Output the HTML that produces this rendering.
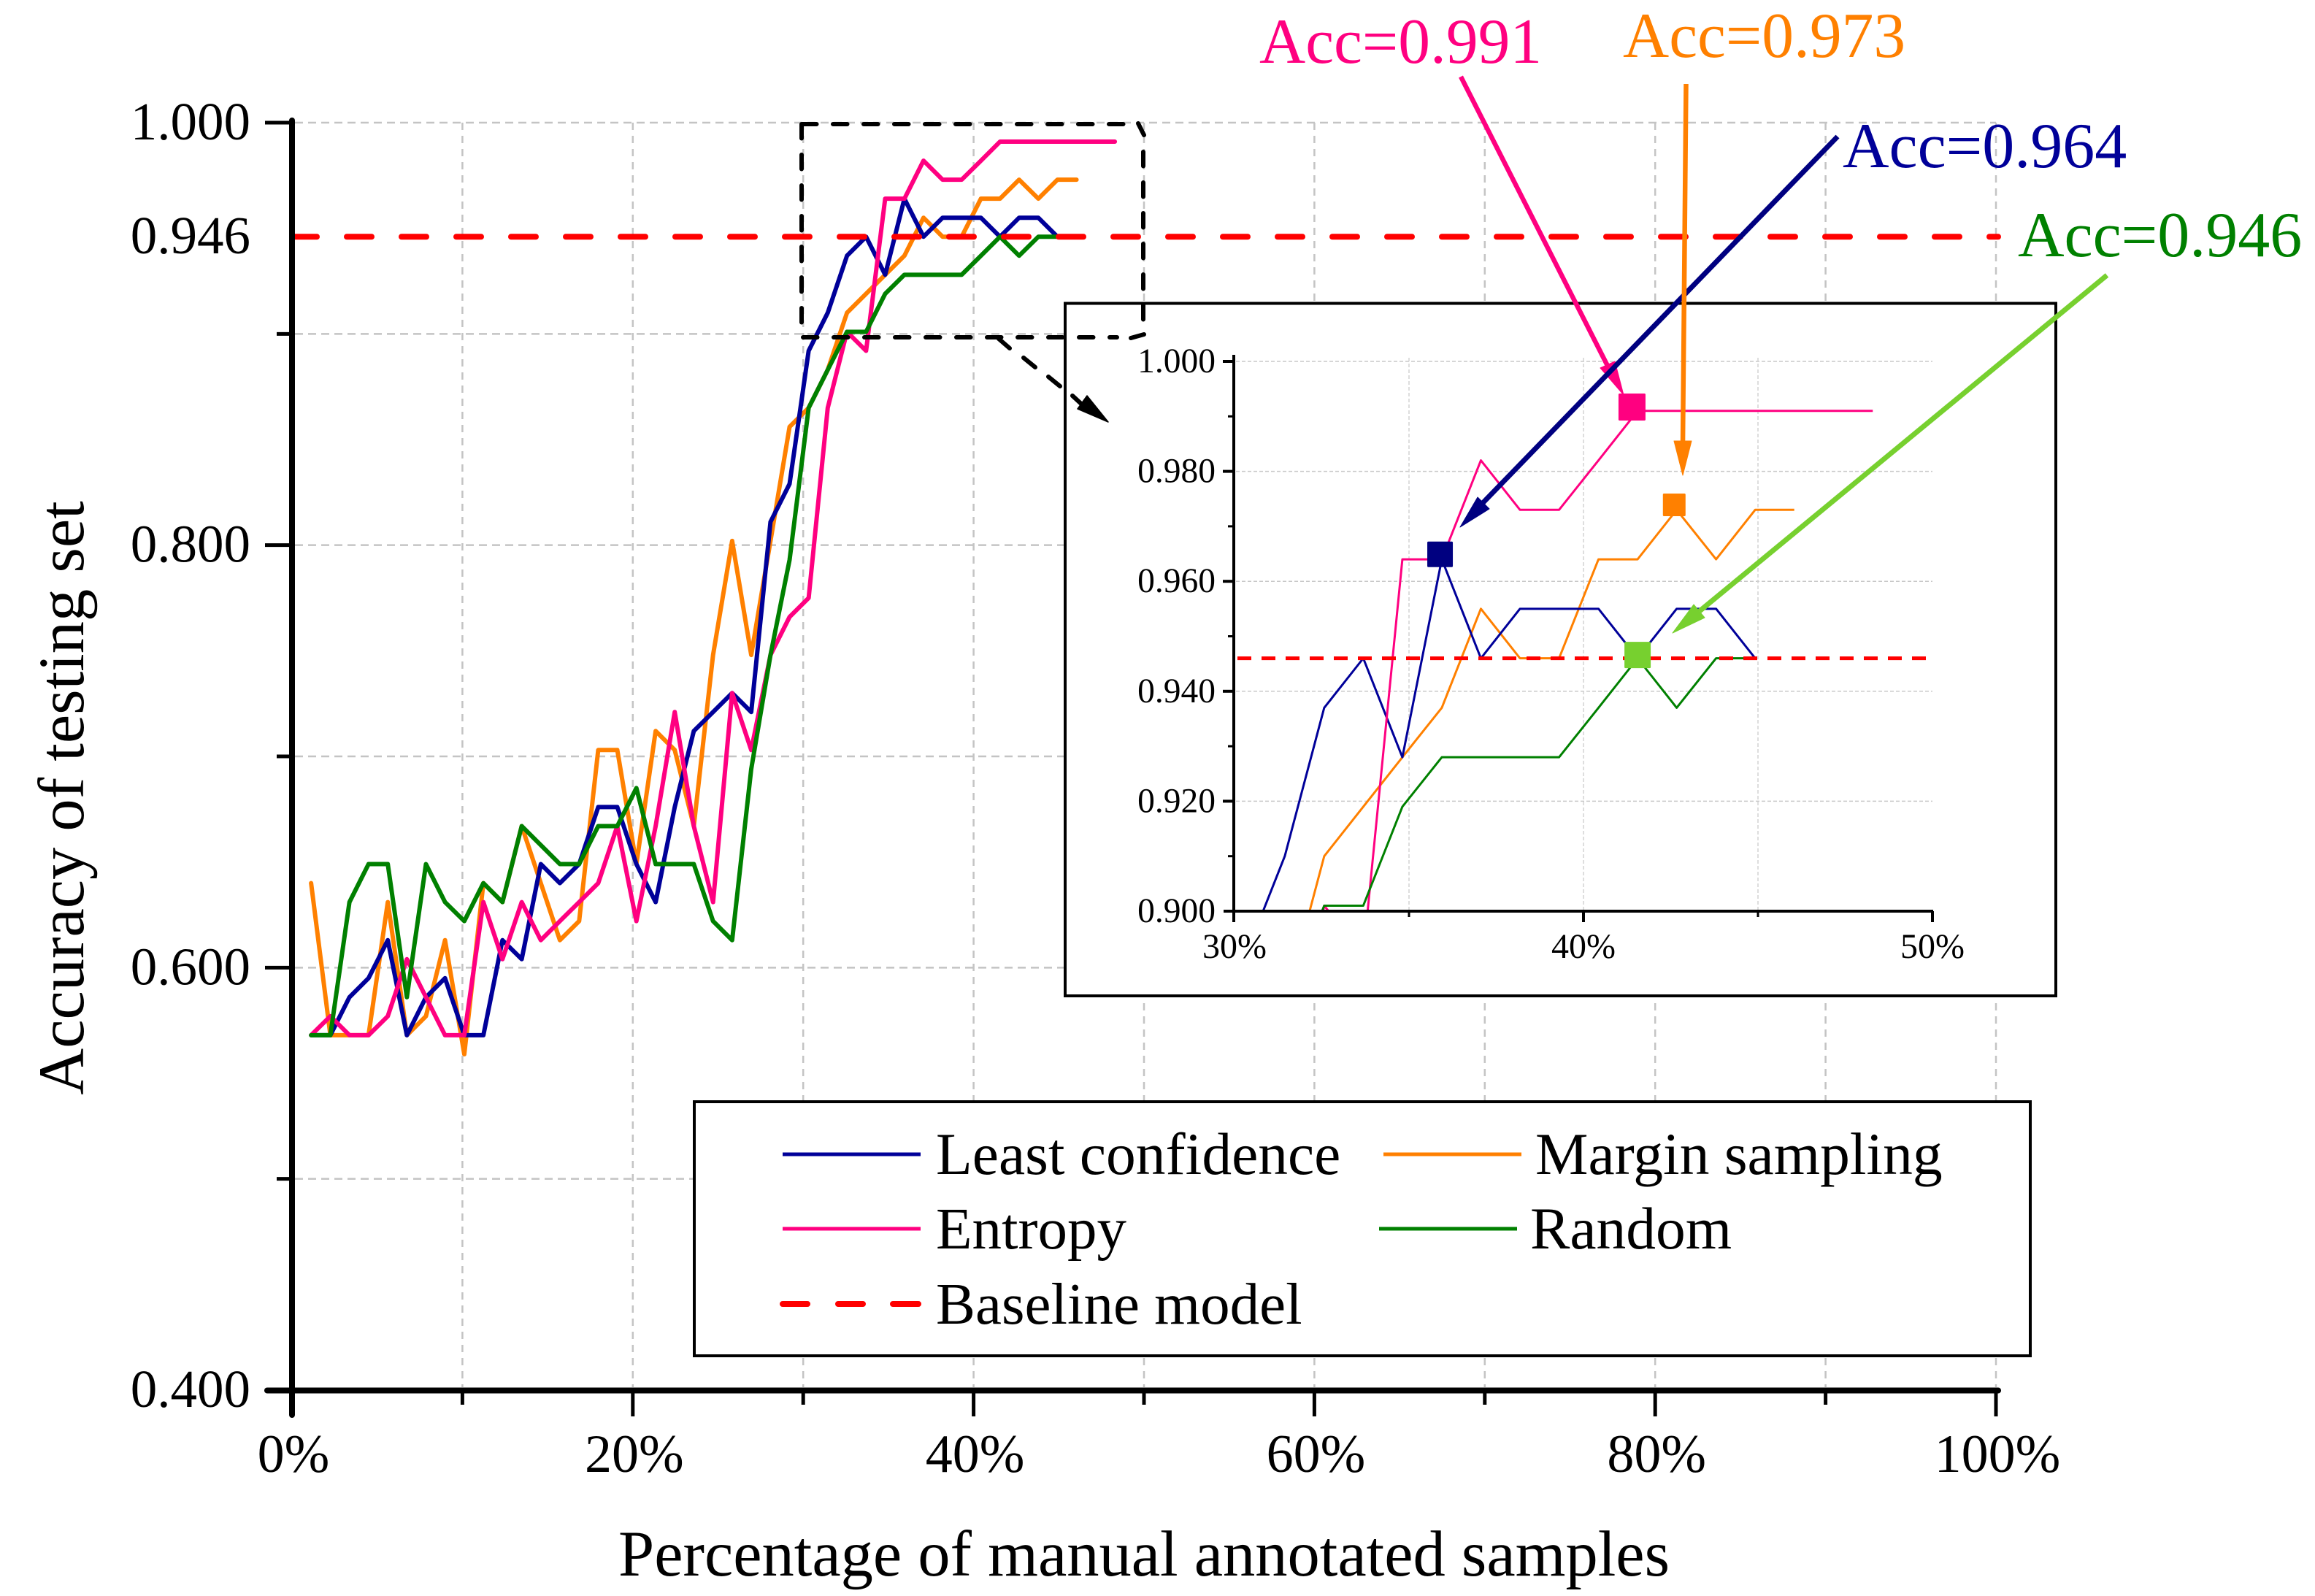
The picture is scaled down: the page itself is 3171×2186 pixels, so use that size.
<!DOCTYPE html>
<html lang="en">
<head>
<meta charset="utf-8">
<title>Accuracy of testing set vs percentage of manual annotated samples</title>
<style>
  html, body { margin: 0; padding: 0; background: #fff; width: 3171px; height: 2186px; overflow: hidden; }
  svg { display: block; position: absolute; left: 0; top: 0; }
  text { font-family: "Liberation Serif", "Times New Roman", serif; fill: #000; }
</style>
</head>
<body>
<svg id="chart" xmlns="http://www.w3.org/2000/svg" width="3171" height="2186" viewBox="0 0 3171 2186">
  <defs>
    <clipPath id="inset-clip"><rect x="1691" y="486" width="956" height="762"/></clipPath>
  </defs>
  <rect x="0" y="0" width="3171" height="2186" fill="#ffffff"/>
  <g id="main-grid"></g>
  <g id="main-series"></g>
  <g id="main-axes"></g>

  <g>
    <rect x="1459" y="415.5" width="1357" height="948.5" fill="#ffffff" stroke="#000" stroke-width="4"/>
    <g id="inset-grid"></g>
    <g id="inset-series" clip-path="url(#inset-clip)"></g>
    <g id="inset-axes"></g>
    <g id="inset-markers"></g>
  </g>

  <g fill="none" stroke="#000" stroke-width="6" stroke-linecap="round" stroke-dasharray="19.5 22.5">
    <path d="M1099 170H1540"/>
    <path d="M1098 170V446"/>
    <path d="M1100 462H1530"/>
    <path d="M1566 208V438"/>
    <path stroke-dasharray="none" d="M1559 169L1567 185"/>
    <path stroke-dasharray="none" d="M1549 463L1567 458"/>
  </g>
  <g>
    <path d="M1368 464L1383 477M1402 490L1418 503M1436 516L1452 529M1469 542L1482 554" fill="none" stroke="#000" stroke-width="6" stroke-linecap="round"/>
    <polygon points="1489,542 1476,560 1518,578" fill="#000" stroke="#000" stroke-width="1.5" stroke-linejoin="round"/>
  </g>

  <g>
    <g>
      <line x1="2001" y1="105" x2="2204" y2="505" stroke="#ff0080" stroke-width="6.5"/>
      <polygon points="2212,495 2192,504 2224,541" fill="#ff0080" stroke="#ff0080" stroke-width="1" stroke-linejoin="round"/>
    </g>
    <g>
      <line x1="2517" y1="187" x2="2030" y2="690" stroke="#000080" stroke-width="7"/>
      <polygon points="2024,681 2040,697 2000,722" fill="#000080" stroke="#000080" stroke-width="1" stroke-linejoin="round"/>
    </g>
    <g>
      <line x1="2309.5" y1="115" x2="2305" y2="610" stroke="#ff8000" stroke-width="6.5"/>
      <polygon points="2293,604 2317,604 2305,651" fill="#ff8000" stroke="#ff8000" stroke-width="1" stroke-linejoin="round"/>
    </g>
    <g>
      <line x1="2886" y1="377" x2="2328" y2="837" stroke="#77d02f" stroke-width="7"/>
      <polygon points="2320,828 2335,846 2291,867" fill="#77d02f" stroke="#77d02f" stroke-width="1" stroke-linejoin="round"/>
    </g>
  </g>

  <text x="1725" y="86" font-size="87.5" style="fill:#ff0080">Acc=0.991</text>
  <text x="2223" y="78" font-size="87.5" style="fill:#ff8000">Acc=0.973</text>
  <text x="2524" y="229" font-size="88" style="fill:#000099">Acc=0.964</text>
  <text x="2764" y="351" font-size="88" style="fill:#008000">Acc=0.946</text>

  <g>
    <rect x="951" y="1509" width="1830" height="348" fill="#ffffff" stroke="#000" stroke-width="4"/>
    <g>
      <line x1="1072" y1="1581" x2="1261" y2="1581" stroke="#000099" stroke-width="5"/>
      <text x="1282" y="1608" font-size="81.5">Least confidence</text>
    </g>
    <g>
      <line x1="1895" y1="1581" x2="2084" y2="1581" stroke="#ff8000" stroke-width="5"/>
      <text x="2103" y="1608" font-size="81.5">Margin sampling</text>
    </g>
    <g>
      <line x1="1072" y1="1683" x2="1261" y2="1683" stroke="#ff0080" stroke-width="5"/>
      <text x="1282" y="1710" font-size="81">Entropy</text>
    </g>
    <g>
      <line x1="1889" y1="1683" x2="2078" y2="1683" stroke="#008000" stroke-width="5"/>
      <text x="2096" y="1710" font-size="81.5">Random</text>
    </g>
    <g>
      <path d="M1072 1786H1106M1148 1786H1182M1223 1786H1258" fill="none" stroke="#ff0000" stroke-width="8" stroke-linecap="round"/>
      <text x="1282" y="1813" font-size="81">Baseline model</text>
    </g>
  </g>

  <text x="1567" y="2158" font-size="88.5" text-anchor="middle">Percentage of manual annotated samples</text>
  <text transform="translate(114,1093) rotate(-90)" font-size="88.5" text-anchor="middle">Accuracy of testing set</text>
</svg>

<script>
// ---- chart data -------------------------------------------------------
const percents = [1.12,2.25,3.37,4.49,5.62,6.74,7.86,8.98,10.11,11.23,12.35,13.48,14.6,15.72,16.85,17.97,19.09,20.21,21.34,22.46,23.58,24.71,25.83,26.95,28.08,29.2,30.32,31.44,32.57,33.69,34.81,35.94,37.06,38.18,39.3,40.43,41.55,42.67,43.8,44.92,46.04,47.16,48.29];
const marginSampling = [0.640,0.568,0.568,0.568,0.631,0.568,0.577,0.613,0.559,0.640,0.631,0.667,0.640,0.613,0.622,0.703,0.703,0.649,0.712,0.703,0.667,0.748,0.802,0.748,0.802,0.856,0.865,0.883,0.910,0.919,0.928,0.937,0.955,0.946,0.946,0.964,0.964,0.973,0.964,0.973,0.973];
const leastConfidence = [0.568,0.568,0.586,0.595,0.613,0.568,0.586,0.595,0.568,0.568,0.613,0.604,0.649,0.640,0.649,0.676,0.676,0.649,0.631,0.676,0.712,0.721,0.730,0.721,0.811,0.829,0.892,0.910,0.937,0.946,0.928,0.964,0.946,0.955,0.955,0.955,0.946,0.955,0.955,0.946];
const entropy = [0.568,0.577,0.568,0.568,0.577,0.604,0.586,0.568,0.568,0.631,0.604,0.631,0.613,0.622,0.631,0.640,0.667,0.622,0.667,0.721,0.667,0.631,0.730,0.703,0.748,0.766,0.775,0.865,0.901,0.892,0.964,0.964,0.982,0.973,0.973,0.982,0.991,0.991,0.991,0.991,0.991,0.991,0.991];
const randomSampling = [0.568,0.568,0.631,0.649,0.649,0.586,0.649,0.631,0.622,0.640,0.631,0.667,0.658,0.649,0.649,0.667,0.667,0.685,0.649,0.649,0.649,0.622,0.613,0.694,0.748,0.793,0.865,0.883,0.901,0.901,0.919,0.928,0.928,0.928,0.928,0.937,0.946,0.937,0.946,0.946];
const baselineValue = [0.946];
const mainYMajor = [1.0,0.8,0.6,0.4];
const mainYMinor = [0.9,0.7,0.5];
const mainYLabels = ["1.000","0.946","0.800","0.600","0.400"];
const mainYLabelValues = [1.0,0.946,0.8,0.6,0.4];
const mainXMajor = [0,20,40,60,80,100];
const mainXMinor = [10,30,50,70,90];
const insetYMajor = [1.0,0.98,0.96,0.94,0.92,0.9];
const insetYMinor = [0.99,0.97,0.95,0.93,0.91];
const insetYLabels = ["1.000","0.980","0.960","0.940","0.920","0.900"];
const insetXMajor = [30,40,50];
const insetXMinor = [35,45];
const highlightNames = ["entropy","least-confidence","margin","random"];
const highlightX = [41.39,35.89,42.6,41.55];
const highlightY = [0.9917,0.9649,0.9739,0.9466];

// ---- axis functions ---------------------------------------------------
function xMain(p) { return 400 + (p - 0) * 23.34; }
function yMain(v) { return 168 + (1 - v) * 2893.3; }
function xInset(p) { return 1691 + (p - 30) * 47.8; }
function yInset(v) { return 495 + (1 - v) * 7530; }

const NS = 'http://www.w3.org/2000/svg';
function el(tag, attrs, parent) {
  const e = document.createElementNS(NS, tag);
  for (const k in attrs) e.setAttribute(k, attrs[k]);
  parent.appendChild(e);
  return e;
}
function pointsFor(values, xf, yf) {
  return values.map(function (v, i) { return xf(percents[i]).toFixed(2) + ',' + yf(v).toFixed(2); }).join(' ');
}

const mainGrid = document.getElementById('main-grid');
const mainSeries = document.getElementById('main-series');
const mainAxes = document.getElementById('main-axes');
const insetGrid = document.getElementById('inset-grid');
const insetSeries = document.getElementById('inset-series');
const insetAxes = document.getElementById('inset-axes');
const insetMarkers = document.getElementById('inset-markers');

// ---- main grid --------------------------------------------------------
mainYMajor.concat(mainYMinor).forEach(function (v) {
  if (v === 0.4) return;
  const g = el('line', { x1: 404, x2: 2734, y1: yMain(v), y2: yMain(v), stroke: '#c4c4c4', 'stroke-width': 2.5, 'stroke-dasharray': '11 7' }, mainGrid);
  
  
});
mainXMajor.concat(mainXMinor).forEach(function (p) {
  if (p === 0) return;
  const g = el('line', { x1: xMain(p), x2: xMain(p), y1: 168, y2: 1900, stroke: '#c4c4c4', 'stroke-width': 2.5, 'stroke-dasharray': '10 8' }, mainGrid);
  
  
});

// ---- main series ------------------------------------------------------
const seriesDefs = [
  { name: 'margin-sampling', values: marginSampling, color: '#ff8000' },
  { name: 'least-confidence', values: leastConfidence, color: '#000099' },
  { name: 'entropy', values: entropy, color: '#ff0080' },
  { name: 'random', values: randomSampling, color: '#008000' }
];
seriesDefs.forEach(function (s) {
  const line = el('polyline', { points: pointsFor(s.values, xMain, yMain), fill: 'none', stroke: s.color, 'stroke-width': 6, 'stroke-linejoin': 'round', 'stroke-linecap': 'round' }, mainSeries);
  
  
});
const baseMain = el('line', { x1: 397, x2: 2737, y1: yMain(baselineValue[0]), y2: yMain(baselineValue[0]), stroke: '#ff0000', 'stroke-width': 8, 'stroke-dasharray': '34 41', 'stroke-dashoffset': '-3', 'stroke-linecap': 'round' }, mainSeries);



// ---- main axes --------------------------------------------------------
const yAxisLine = el('line', { x1: 400, x2: 400, y1: 165, y2: 1938, stroke: '#000', 'stroke-width': 8, 'stroke-linecap': 'round' }, mainAxes);


const xAxisLine = el('line', { x1: 366, x2: 2737, y1: 1904.5, y2: 1904.5, stroke: '#000', 'stroke-width': 8, 'stroke-linecap': 'round' }, mainAxes);



mainYMajor.forEach(function (v) {
  if (v === 0.4) return;
  const t = el('line', { x1: 363, x2: 400, y1: yMain(v), y2: yMain(v), stroke: '#000', 'stroke-width': 5 }, mainAxes);
  
  
});
mainYMinor.forEach(function (v) {
  const t = el('line', { x1: 379, x2: 400, y1: yMain(v), y2: yMain(v), stroke: '#000', 'stroke-width': 5 }, mainAxes);
  
  
});
mainYLabels.forEach(function (label, i) {
  const t = el('text', { x: 343, y: yMain(mainYLabelValues[i]) + 23, 'font-size': 73, 'text-anchor': 'end' }, mainAxes);
  
  
  t.textContent = label;
});
mainXMajor.forEach(function (p) {
  if (p !== 0) {
    const t = el('line', { x1: xMain(p), x2: xMain(p), y1: 1904, y2: 1940, stroke: '#000', 'stroke-width': 5 }, mainAxes);
    
    
  }
  const l = el('text', { x: xMain(p) + 2, y: 2016, 'font-size': 74, 'text-anchor': 'middle' }, mainAxes);
  
  
  l.textContent = p + '%';
});
mainXMinor.forEach(function (p) {
  const t = el('line', { x1: xMain(p), x2: xMain(p), y1: 1904, y2: 1924, stroke: '#000', 'stroke-width': 5 }, mainAxes);
  
  
});

// ---- inset grid -------------------------------------------------------
insetYMajor.forEach(function (v) {
  if (v === 0.9) return;
  const g = el('line', { x1: 1693, x2: 2647, y1: yInset(v), y2: yInset(v), stroke: '#c8c8c8', 'stroke-width': 1.5, 'stroke-dasharray': '5 3' }, insetGrid);
  
  
});
insetXMajor.concat(insetXMinor).forEach(function (p) {
  if (p === 30 || p === 50) return;
  const g = el('line', { x1: xInset(p), x2: xInset(p), y1: 490, y2: 1246, stroke: '#d4d4d4', 'stroke-width': 1.5, 'stroke-dasharray': '5 3' }, insetGrid);
  
  
});

// ---- inset series -----------------------------------------------------
seriesDefs.forEach(function (s) {
  const line = el('polyline', { points: pointsFor(s.values, xInset, yInset), fill: 'none', stroke: s.color, 'stroke-width': 3, 'stroke-linejoin': 'round' }, insetSeries);
  
  
});

// ---- inset axes -------------------------------------------------------
const insetYAxis = el('line', { x1: 1690, x2: 1690, y1: 486, y2: 1263, stroke: '#000', 'stroke-width': 4 }, insetAxes);


const insetXAxis = el('line', { x1: 1676, x2: 2648, y1: 1248, y2: 1248, stroke: '#000', 'stroke-width': 4 }, insetAxes);


insetYMajor.forEach(function (v, i) {
  if (v !== 0.9) {
    const t = el('line', { x1: 1675, x2: 1690, y1: yInset(v), y2: yInset(v), stroke: '#000', 'stroke-width': 4 }, insetAxes);
    
    
  }
  const l = el('text', { x: 1665, y: yInset(v) + 15, 'font-size': 47.5, 'text-anchor': 'end' }, insetAxes);
  
  
  l.textContent = insetYLabels[i];
});
insetYMinor.forEach(function (v) {
  const t = el('line', { x1: 1682, x2: 1690, y1: yInset(v), y2: yInset(v), stroke: '#000', 'stroke-width': 3 }, insetAxes);
  
  
});
insetXMajor.forEach(function (p) {
  if (p !== 30) {
    const t = el('line', { x1: xInset(p), x2: xInset(p), y1: 1248, y2: 1263, stroke: '#000', 'stroke-width': 4 }, insetAxes);
    
    
  }
  const l = el('text', { x: xInset(p), y: 1312, 'font-size': 48, 'text-anchor': 'middle' }, insetAxes);
  
  
  l.textContent = p + '%';
});
insetXMinor.forEach(function (p) {
  const t = el('line', { x1: xInset(p), x2: xInset(p), y1: 1248, y2: 1256, stroke: '#000', 'stroke-width': 3 }, insetAxes);
  
  
});

const baseInset = el('line', { x1: 1695, x2: 2647, y1: yInset(baselineValue[0]), y2: yInset(baselineValue[0]), stroke: '#ff0000', 'stroke-width': 5, 'stroke-dasharray': '19 14' }, insetAxes);



// ---- inset highlight markers ------------------------------------------
const markerColors = ['#ff0080', '#000080', '#ff8000', '#77d02f'];
const markerW = [37, 35, 31, 36];
const markerH = [37, 35, 31, 36];
highlightNames.forEach(function (name, i) {
  const m = el('rect', { x: xInset(highlightX[i]) - markerW[i] / 2, y: yInset(highlightY[i]) - markerH[i] / 2, width: markerW[i], height: markerH[i], rx: 1.5, fill: markerColors[i] }, insetMarkers);
  
  
});
</script>
</body>
</html>
